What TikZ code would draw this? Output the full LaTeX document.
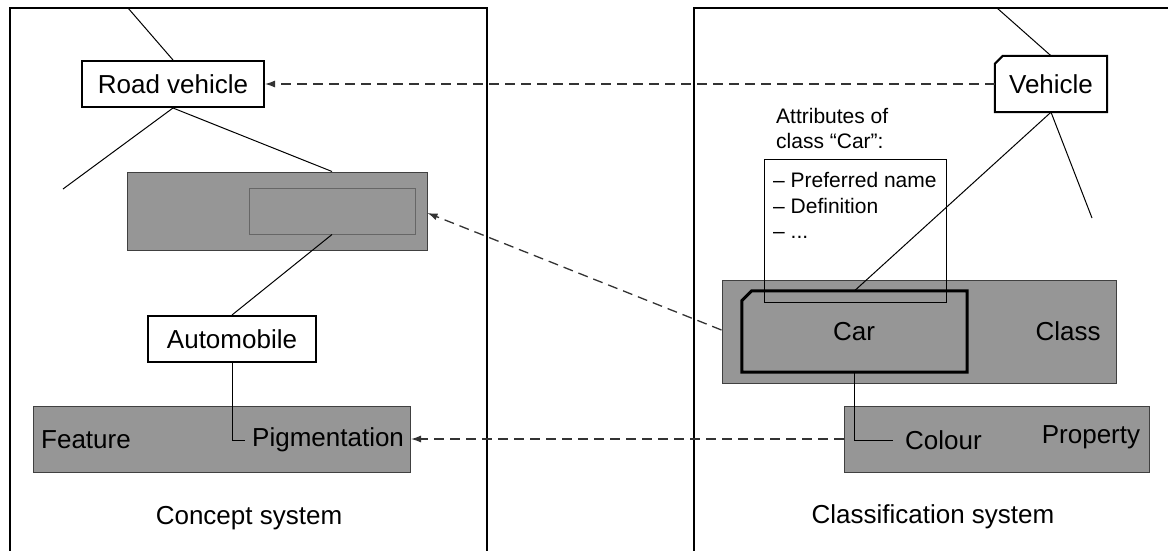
\documentclass[tikz,border=0pt]{standalone}
\usepackage{fontspec}
\setmainfont{Liberation Sans}
\usetikzlibrary{arrows.meta}
\definecolor{boxgrey}{RGB}{150,150,150}
\newcommand\lblfont{\fontsize{26}{31}\selectfont}
\newcommand\notefont{\fontsize{21}{25.5}\selectfont}
\tikzset{
  frameline/.style={line width=2pt},
  termbox/.style={draw, line width=2pt, fill=white, inner sep=0pt, font=\lblfont},
  plainbox/.style={draw=none, inner sep=0pt, font=\lblfont},
  greybox/.style={draw=black!75, line width=1pt, fill=boxgrey, inner sep=0pt},
  label/.style={inner sep=0pt, font=\lblfont},
  note/.style={inner sep=0pt, font=\notefont, align=left},
  link/.style={line width=1pt},
  refarrow/.style={draw=black!80, line width=1.3pt, dash pattern=on 10pt off 6pt,
    -{Latex[length=10pt,width=7pt]}},
}
\begin{document}
\begin{tikzpicture}[x=1pt,y=-1pt]
\useasboundingbox (0,0) rectangle (1168,551);

% the two system frames
\draw[frameline] (10,551) -- (10,8) -- (487,8) -- (487,551);
\draw[frameline] (694,551) -- (694,8) -- (1170,8);

% ---------------- concept system ----------------
\node[termbox, minimum width=182pt, minimum height=46pt] (rv) at (173,84) {Road vehicle};
\node[greybox, minimum width=300pt, minimum height=78pt] (gbox) at (277,211) {};
\node[draw=black!60, line width=1pt, inner sep=0pt, minimum width=166pt, minimum height=46pt] (ginner) at (332,211) {};
\node[termbox, minimum width=168pt, minimum height=46pt] (auto) at (232,339) {Automobile};
\node[greybox, minimum width=377pt, minimum height=66pt] (feat) at (222,439) {};
\node[label, anchor=west] (featlbl) at (41,440) {Feature};
\node[label, anchor=west, inner xsep=7pt] (pig) at (245,440) {Pigmentation};
\node[label] (cs) at (249,518) {Concept system};

\coordinate (rvup) at (128,8);
\coordinate (rvleft) at (63,189);
\draw[link] (rvup) -- (rv.north);
\draw[link] (rv.south) -- (rvleft);
\draw[link] (rv.south) -- (ginner.north |- gbox.north);
\draw[link] (ginner.south) -- (auto.north);
\draw[link] (auto.south) |- (pig.west);

% ---------------- classification system ----------------
\node[plainbox, minimum width=112pt, minimum height=56pt] (veh) at (1051,84) {Vehicle};
\draw[line width=2pt, fill=white]
  ([xshift=8pt]veh.north west) -- (veh.north east) -- (veh.south east)
  -- (veh.south west) -- ([yshift=-8pt]veh.north west) -- cycle;
\node[label] at (veh.center) {Vehicle};

\node[note, anchor=west] (atthead) at (776,128.5) {Attributes of\\class “Car”:};

\node[greybox, minimum width=394pt, minimum height=103pt] (cls) at (919,331.5) {};
\node[label] (clslbl) at (1068,331) {Class};
\node[plainbox, minimum width=225pt, minimum height=81pt] (car) at (854.5,331.5) {};
\draw[line width=3pt, fill=boxgrey]
  ([xshift=10pt]car.north west) -- (car.north east) -- (car.south east)
  -- (car.south west) -- ([yshift=-10pt]car.north west) -- cycle;
\node[label] (carlbl) at (854,332) {Car};

\node[draw, line width=1pt, inner sep=0pt, minimum width=182pt, minimum height=143pt] (attr) at (855,230.5) {};
\node[note, anchor=north west] (attlist) at (773,172.5) {– Preferred name\\– Definition\\– ...};

\node[greybox, minimum width=305pt, minimum height=66pt] (prop) at (996.5,439) {};
\node[label] (proplbl) at (1091,437) {Property};
\node[label, anchor=west, inner xsep=12pt] (col) at (893,440) {Colour};
\node[label] (ccs) at (933,517) {Classification system};

\coordinate (vehup) at (997,8);
\coordinate (vehright) at (1092,218);
\draw[link] (vehup) -- (veh.north);
\draw[link] (veh.south) -- (vehright);
\draw[link] (veh.south) -- (car.north);
\draw[link] (car.south) |- (col.west);

% ---------------- correspondences ----------------
\draw[refarrow] (veh.west) -- (rv.east);
\draw[refarrow] (cls.west |- 0,330) -- (gbox.east |- 0,213);
\draw[refarrow] (prop.west) -- (feat.east);
\end{tikzpicture}
\end{document}
